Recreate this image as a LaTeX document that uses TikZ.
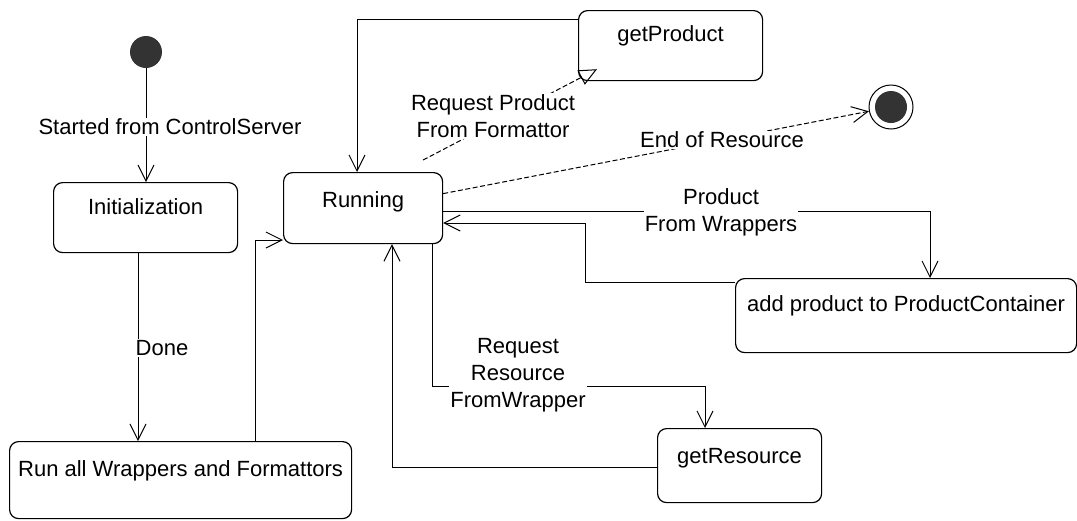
\documentclass[tikz,border=0pt]{standalone}
\usepackage{fontspec}
\setmainfont{Liberation Sans}
\usetikzlibrary{arrows.meta,calc}
\begin{document}
\begin{tikzpicture}[x=1pt,y=-1pt,
  every node/.append style={font=\fontsize{22}{27}\selectfont},
  state/.style={draw, rounded corners=9pt, line width=1.2pt, inner sep=0pt, anchor=north west, align=center},
  conn/.style={line width=1pt, -{Straight Barb[length=16pt,width=16pt,line width=1pt]}},
  dconn/.style={conn, dash pattern=on 5pt off 2.5pt},
  dtri/.style={line width=1pt, dash pattern=on 5pt off 2.5pt, -{Triangle[open,length=18pt,width=16pt,line width=1pt,sep=0pt]}},
  lbl/.style={fill=white, inner sep=1pt, align=center},
  dot/.style={circle, fill=black!80, minimum size=32pt, inner sep=0pt}
]
\useasboundingbox (0,0) rectangle (1077,520);

% states
\node[state, minimum width=184pt, text height=32pt, text depth=38pt] (init) at (53,182) {Initialization};
\node[state, minimum width=159pt, text height=35pt, text depth=36pt] (running) at (283,172) {Running};
\node[state, minimum width=184pt, text height=31pt, text depth=39pt] (getproduct) at (578,10) {getProduct};
\node[state, minimum width=341pt, text height=33pt, text depth=41pt] (addp) at (735,278) {add product to ProductContainer};
\node[state, minimum width=164pt, text height=35pt, text depth=39pt] (getresource) at (657,428) {getResource};
\node[state, minimum width=342pt, text height=35pt, text depth=42pt] (runall) at (9,441) {Run all Wrappers and Formattors};

\node[dot] (start) at (146,52) {};
\node[circle, draw, line width=1pt, minimum size=44pt, inner sep=0pt] (final) at (891,107) {};
\node[dot] (finalin) at (final) {};

% bend coordinates
\coordinate (c1) at (138,0);
\coordinate (c2) at (255,240);
\coordinate (c3) at (357,19);
\coordinate (c4) at (930,211);
\coordinate (c5) at (585,223);
\coordinate (c6) at (585,282);
\coordinate (c7) at (432,386);
\coordinate (c8) at (705,386);
\coordinate (c9) at (392,467);

% connectors
\draw[conn] (start.south) -- (start.south |- init.north);
\node[lbl] (lstart) at (170,127) {Started from ControlServer};

\draw[conn] (init.south -| c1) -- (runall.north -| c1);
\node[lbl] (ldone) at (162,348) {Done};

\draw[conn] (runall.north -| c2) |- (running.west |- c2);

\draw[conn] (getproduct.west |- c3) -| (running.north -| c3);

\draw[dtri] ($(running.north)+(60,-12)$) -- ($(getproduct.south west)+(19,-12)$);
\node[lbl] (lreqp) at (493,116) {Request Product\\From Formattor};

\draw[dconn] ($(running.east)+(0,-14.5)$) -- (final)
  node[lbl, pos=0.655] (lend) {End of Resource};

\draw[conn] (running.east |- c4) -| (addp.north -| c4);
\node[lbl] (lprod) at (721,212) {Product\\From Wrappers};

\draw[conn] (addp.west |- c6) -- (c6) |- (running.east |- c5);

\draw[conn] (running.south -| c7) -- (c7) -- (c8) -- (getresource.north -| c8);
\node[lbl] (lreqr) at (518,375) {Request\\Resource\\FromWrapper};

\draw[conn] (getresource.west |- c9) -| (running.south -| c9);
\end{tikzpicture}
\end{document}
